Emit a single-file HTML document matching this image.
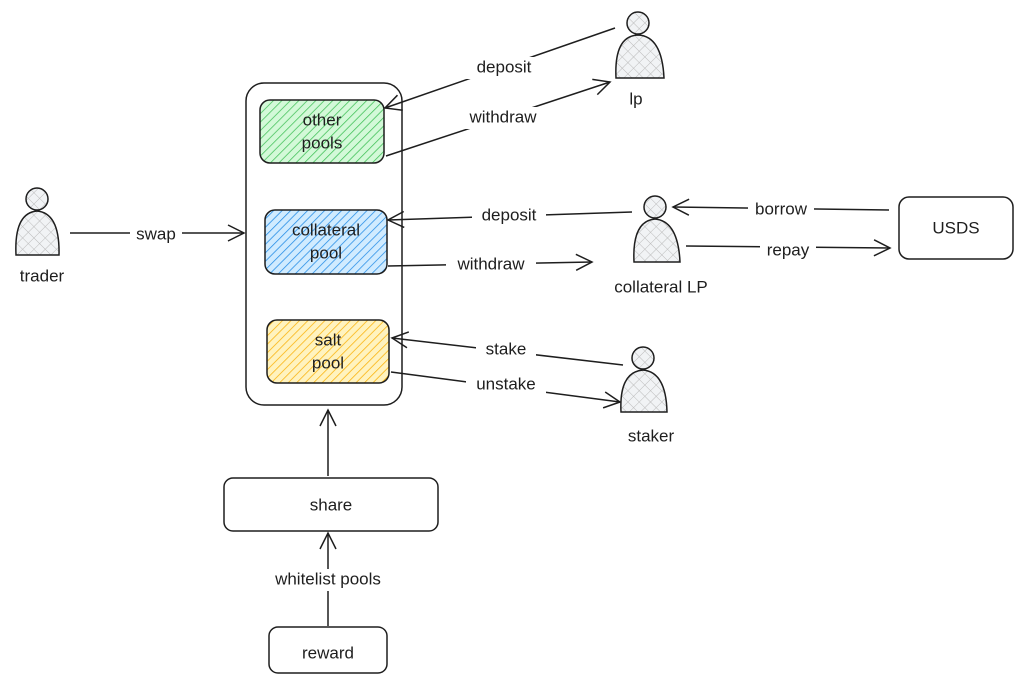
<!DOCTYPE html>
<html><head><meta charset="utf-8"><style>
html,body{margin:0;padding:0;background:#fff;}
svg{display:block;}
text{font-family:"Liberation Sans",sans-serif;font-size:17px;fill:#1e1e1e;text-anchor:middle;dominant-baseline:middle;}
</style></head><body>
<svg width="1025" height="684" viewBox="0 0 1025 684" xmlns="http://www.w3.org/2000/svg">
<defs>
<pattern id="hg" width="6" height="6" patternUnits="userSpaceOnUse" patternTransform="rotate(45)"><rect width="6" height="6" fill="#d3f9d8"/><line x1="0" y1="0" x2="0" y2="6" stroke="#40c057" stroke-width="1.5"/></pattern>
<pattern id="hb" width="6" height="6" patternUnits="userSpaceOnUse" patternTransform="rotate(45)"><rect width="6" height="6" fill="#d0ebff"/><line x1="0" y1="0" x2="0" y2="6" stroke="#228be6" stroke-width="1.5"/></pattern>
<pattern id="hy" width="6" height="6" patternUnits="userSpaceOnUse" patternTransform="rotate(45)"><rect width="6" height="6" fill="#fff3bf"/><line x1="0" y1="0" x2="0" y2="6" stroke="#fab005" stroke-width="1.5"/></pattern>
<pattern id="hx" width="8" height="8" patternUnits="userSpaceOnUse" patternTransform="rotate(45)"><rect width="8" height="8" fill="#f1f3f5"/><path d="M0 0V8M0 0H8" stroke="#bbb" stroke-width="1"/></pattern>
<marker id="a" viewBox="0 0 20 20" refX="18" refY="10" markerWidth="20" markerHeight="20" markerUnits="userSpaceOnUse" orient="auto"><path d="M2 2L18 10L2 18" fill="none" stroke="#1e1e1e" stroke-width="1.5"/></marker>
</defs>
<g fill="none" stroke="#1e1e1e" stroke-width="1.5">
<rect x="246" y="83" width="156" height="322" rx="18"/>
<rect x="260" y="100" width="124" height="63" rx="10" fill="url(#hg)"/>
<rect x="265" y="210" width="122" height="64" rx="10" fill="url(#hb)"/>
<rect x="267" y="320" width="122" height="63" rx="10" fill="url(#hy)"/>
<rect x="899" y="197" width="114" height="62" rx="10"/>
<rect x="224" y="478" width="214" height="53" rx="9"/>
<rect x="269" y="627" width="118" height="46" rx="9"/>
<!-- persons -->
<g fill="url(#hx)">
<circle cx="37" cy="199" r="11"/><path d="M16 255 Q14 213 37 211 Q60 213 59 255 Z"/>
<circle cx="638" cy="23" r="11"/><path d="M616 78 Q614 36 638 35 Q662 36 664 78 Z"/>
<circle cx="655" cy="207" r="11"/><path d="M634 262 Q632 221 655 219 Q678 221 680 262 Z"/>
<circle cx="643" cy="358" r="11"/><path d="M621 412 Q619 372 643 370 Q666 372 667 412 Z"/>
</g>
<!-- arrows -->
<path d="M70 233L244 233" marker-end="url(#a)"/>
<path d="M615 28L385 108" marker-end="url(#a)"/>
<path d="M386 156L610 82" marker-end="url(#a)"/>
<path d="M632 212L388 220" marker-end="url(#a)"/>
<path d="M388 266L592 262" marker-end="url(#a)"/>
<path d="M889 210L673 207" marker-end="url(#a)"/>
<path d="M686 246L890 248" marker-end="url(#a)"/>
<path d="M623 365L392 338" marker-end="url(#a)"/>
<path d="M391 372L620 402" marker-end="url(#a)"/>
<path d="M328 476L328 410" marker-end="url(#a)"/>
<path d="M328 626L328 533" marker-end="url(#a)"/>
</g>
<g fill="#fff">
<rect x="130" y="225" width="52" height="20"/>
<rect x="466" y="57" width="76" height="22"/>
<rect x="458" y="107" width="90" height="22"/>
<rect x="472" y="205" width="74" height="22"/>
<rect x="446" y="254" width="90" height="22"/>
<rect x="748" y="200" width="66" height="20"/>
<rect x="760" y="240" width="56" height="22"/>
<rect x="476" y="340" width="60" height="20"/>
<rect x="466" y="374" width="80" height="22"/>
<rect x="256" y="569" width="144" height="22"/>
</g>
<text x="322" y="121">other</text><text x="322" y="144">pools</text>
<text x="326" y="231">collateral</text><text x="326" y="254">pool</text>
<text x="328" y="341">salt</text><text x="328" y="364">pool</text>
<text x="956" y="229">USDS</text>
<text x="331" y="506">share</text>
<text x="328" y="654">reward</text>
<text x="42" y="277">trader</text>
<text x="636" y="100">lp</text>
<text x="661" y="288">collateral LP</text>
<text x="651" y="437">staker</text>
<text x="156" y="235">swap</text>
<text x="504" y="68">deposit</text>
<text x="503" y="118">withdraw</text>
<text x="509" y="216">deposit</text>
<text x="491" y="265">withdraw</text>
<text x="781" y="210">borrow</text>
<text x="788" y="251">repay</text>
<text x="506" y="350">stake</text>
<text x="506" y="385">unstake</text>
<text x="328" y="580">whitelist pools</text>
</svg>
</body></html>
